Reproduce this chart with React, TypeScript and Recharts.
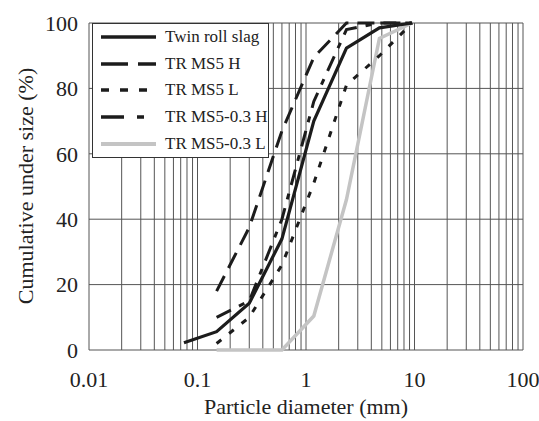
import { CartesianGrid, Label, Line, LineChart, XAxis, YAxis } from "recharts";

// sieve sizes (mm) shared by every series
const sizes = [0.075, 0.15, 0.3, 0.6, 1.18, 2.36, 4.75, 9.5];

// cumulative % passing
const twinRoll = [2.2, 5.6, 14.3, 34, 70, 92.3, 98.5, 100];
const ms5H = [null, 18, 37.5, 67, 89.5, 100, 100, 100];
const ms5L = [null, 2, 10, 26, 51, 81, 90, 100];
const ms503H = [null, 10, 15, 40, 76, 98, 100, 100];
const ms503L = [null, 0, 0, 0, 10.4, 46, 95.3, 100];

const decadeTicks = [0.01, 0.1, 1, 10, 100];
const multipliers = [1, 2, 3, 4, 5, 6, 7, 8, 9];
const yTicks = [0, 20, 40, 60, 80, 100];

const FONT = '"Liberation Serif", "DejaVu Serif", serif';

// every minor log line for the grid
const gridTicks: number[] = [];
decadeTicks.slice(0, -1).forEach((d) => {
  multipliers.forEach((m) => gridTicks.push(Number((d * m).toPrecision(2))));
});
gridTicks.push(100);

const data = sizes.map((d, i) => ({
  d,
  twin: twinRoll[i],
  h: ms5H[i],
  l: ms5L[i],
  h03: ms503H[i],
  l03: ms503L[i],
}));

const series = [
  { key: "twin", name: "Twin roll slag", color: "#1c1c1c", width: 3.2, dash: undefined, legendDash: undefined },
  { key: "h", name: "TR MS5 H", color: "#1c1c1c", width: 3, dash: "17 9", legendDash: "27 10" },
  { key: "l", name: "TR MS5 L", color: "#1c1c1c", width: 3, dash: "6 10", legendDash: "8 11" },
  { key: "h03", name: "TR MS5-0.3 H", color: "#1c1c1c", width: 3, dash: "16 9 6 9", legendDash: "23 13 7 13" },
  { key: "l03", name: "TR MS5-0.3 L", color: "#c4c4c4", width: 3.5, dash: undefined, legendDash: undefined },
];

function XTick({ x, y, payload }: any) {
  if (!decadeTicks.includes(payload.value)) return <g />;
  return (
    <text x={x} y={y + 35} textAnchor="middle" fontSize={22} fontFamily={FONT} fill="#222">
      {String(payload.value)}
    </text>
  );
}

function ChartLegend() {
  return (
    <div
      style={{
        position: "absolute",
        left: 92,
        top: 23,
        width: 175,
        border: "1px solid #333",
        background: "#fff",
        fontFamily: FONT,
        fontSize: 17,
        color: "#222",
      }}
    >
      {series.map((s) => (
        <div key={s.key} style={{ height: 26.6, display: "flex", alignItems: "center" }}>
          <svg width={72} height={10} style={{ flex: "none" }}>
            <line
              x1={8}
              x2={63}
              y1={5}
              y2={5}
              stroke={s.color}
              strokeWidth={s.width + 0.5}
              strokeDasharray={s.legendDash}
            />
          </svg>
          <span>{s.name}</span>
        </div>
      ))}
    </div>
  );
}

export default function App() {
  return (
    <div style={{ position: "absolute", left: 0, top: 0, width: 539, height: 421, background: "#fff" }}>
      <LineChart width={539} height={421} data={data} margin={{ top: 23, right: 16, bottom: 0, left: 0 }}>
        <CartesianGrid stroke="#555" strokeWidth={1} />
        <XAxis
          dataKey="d"
          type="number"
          scale="log"
          domain={[0.01, 100]}
          ticks={gridTicks}
          interval={0}
          allowDataOverflow
          axisLine={false}
          tickLine={false}
          tickSize={0}
          tick={<XTick />}
          height={71}
        >
          <Label
            content={() => (
              <text x={306} y={414} textAnchor="middle" fontSize={22} fontFamily={FONT} fill="#222">
                Particle diameter (mm)
              </text>
            )}
          />
        </XAxis>
        <YAxis
          type="number"
          domain={[0, 100]}
          ticks={yTicks}
          interval={0}
          width={89}
          axisLine={false}
          tickLine={false}
          tickSize={0}
          tickMargin={11}
          tick={{ fill: "#222", fontSize: 22, fontFamily: FONT }}
        >
          <Label
            content={() => (
              <text
                x={25}
                y={186}
                transform="rotate(-90, 25, 186)"
                textAnchor="middle"
                dominantBaseline="central"
                fontSize={22}
                fontFamily={FONT}
                fill="#222"
              >
                Cumulative under size (%)
              </text>
            )}
          />
        </YAxis>
        {[...series].reverse().map((s) => (
          <Line
            key={s.key}
            dataKey={s.key}
            name={s.name}
            type="linear"
            stroke={s.color}
            strokeWidth={s.width}
            strokeDasharray={s.dash}
            dot={false}
            activeDot={false}
            isAnimationActive={false}
          />
        ))}
      </LineChart>
      <ChartLegend />
    </div>
  );
}
